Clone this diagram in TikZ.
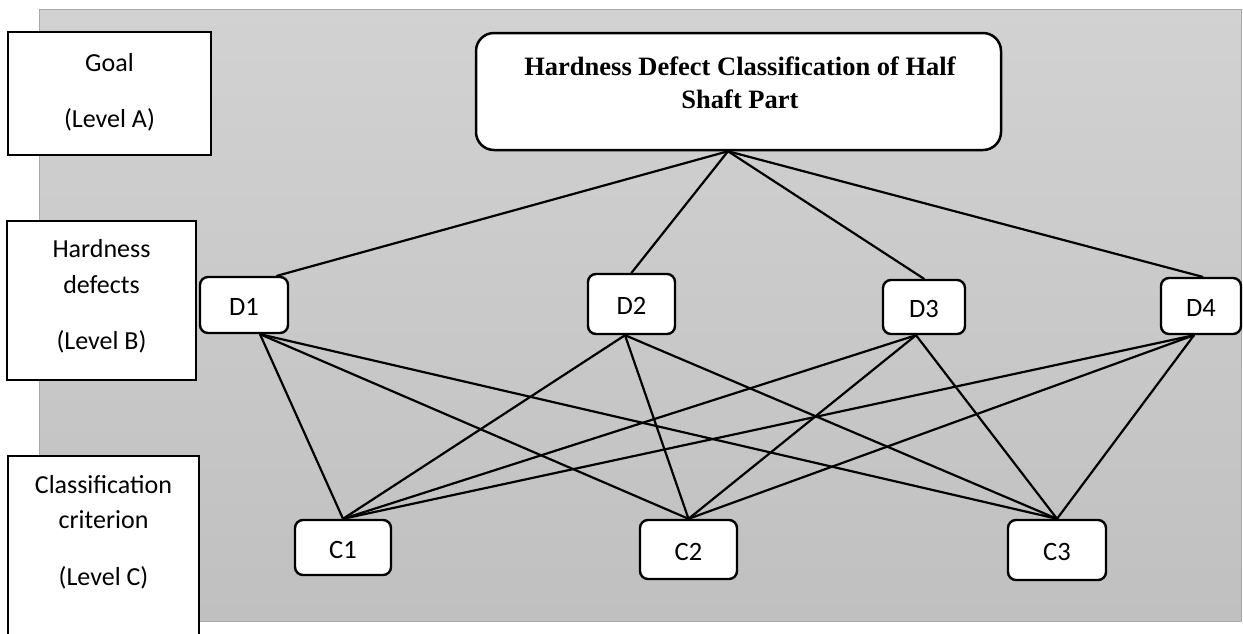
\documentclass[tikz,border=0pt]{standalone}
\usepackage{fontspec}
\setmainfont{Carlito}
\newfontfamily\titlefont{Liberation Serif}
\definecolor{bgtop}{RGB}{210,210,210}
\definecolor{bgbot}{RGB}{192,192,192}
\definecolor{bgedge}{RGB}{168,168,168}
\begin{document}
\begin{tikzpicture}[x=1pt,y=-1pt,
  levelbox/.style={draw, line width=2.8pt, fill=white, rectangle, inner sep=0pt},
  lvltext/.style={anchor=base, inner sep=0pt, font=\fontsize{26}{31}\selectfont},
  titlebox/.style={draw, line width=2.5pt, fill=white, rounded corners=18pt, inner sep=0pt},
  titletext/.style={anchor=base, inner sep=0pt, font=\titlefont\bfseries\fontsize{26.5}{33}\selectfont},
  critbox/.style={draw, line width=2.4pt, fill=white, rounded corners=8pt, inner sep=0pt,
    text height=21pt, text depth=0pt, font=\fontsize{26.5}{31}\selectfont},
  link/.style={line width=2.2pt, black, line cap=round}]
\useasboundingbox (0,0) rectangle (1243,633);
% background panel
\shade[top color=bgtop, bottom color=bgbot, draw=bgedge, line width=1pt] (39,9) rectangle (1241,621);

% level boxes
\node[levelbox, minimum width=203pt, minimum height=123pt] (LA) at (109.5,93.5) {};
\node[lvltext] (LA1) at (109.5,71) {Goal};
\node[lvltext] (LA2) at (109.5,127) {(Level A)};

\node[levelbox, minimum width=189pt, minimum height=159pt] (LB) at (101.5,300.5) {};
\node[lvltext] (LB1) at (101.5,257) {Hardness};
\node[lvltext] (LB2) at (101.5,293) {defects};
\node[lvltext] (LB3) at (101.5,349) {(Level B)};

\node[levelbox, minimum width=191pt, minimum height=190pt] (LC) at (103.5,551) {};
\node[lvltext] (LC1) at (103.5,493) {Classification};
\node[lvltext] (LC2) at (103.5,528) {criterion};
\node[lvltext] (LC3) at (103.5,585) {(Level C)};

% goal
\node[titlebox, minimum width=525pt, minimum height=117pt] (top) at (738.5,91.5) {};
\node[titletext] (T1) at (740,75) {Hardness Defect Classification of Half};
\node[titletext] (T2) at (740,108) {Shaft Part};

% defects
\node[critbox, minimum width=88pt, minimum height=56pt] (D1) at (244,305) {D1};
\node[critbox, minimum width=87pt, minimum height=60pt] (D2) at (631.5,304) {D2};
\node[critbox, minimum width=82pt, minimum height=54pt] (D3) at (924,307) {D3};
\node[critbox, minimum width=80pt, minimum height=56pt] (D4) at (1201,306) {D4};

% criteria
\node[critbox, minimum width=96pt, minimum height=55pt] (C1) at (343,547.5) {C1};
\node[critbox, minimum width=97pt, minimum height=59pt] (C2) at (688.5,549.5) {C2};
\node[critbox, minimum width=98pt, minimum height=60pt] (C3) at (1057,550) {C3};

% goal to defects
\coordinate (G) at ([xshift=-10.5pt]top.south);
\draw[link] (G) -- ([xshift=33pt]D1.north);
\draw[link] (G) -- (D2.north);
\draw[link] (G) -- (D3.north);
\draw[link] (G) -- ([xshift=1.5pt]D4.north);

% defects to criteria
\coordinate (B1) at ([xshift=16pt]D1.south);
\coordinate (B2) at ([xshift=-6.5pt]D2.south);
\coordinate (B3) at ([xshift=-8pt]D3.south);
\coordinate (B4) at ([xshift=-7pt]D4.south);
\foreach \d in {B1,B2,B3,B4}{
  \foreach \c in {C1,C2,C3}{
    \draw[link] (\d) -- (\c.north);
  }
}
\end{tikzpicture}
\end{document}
